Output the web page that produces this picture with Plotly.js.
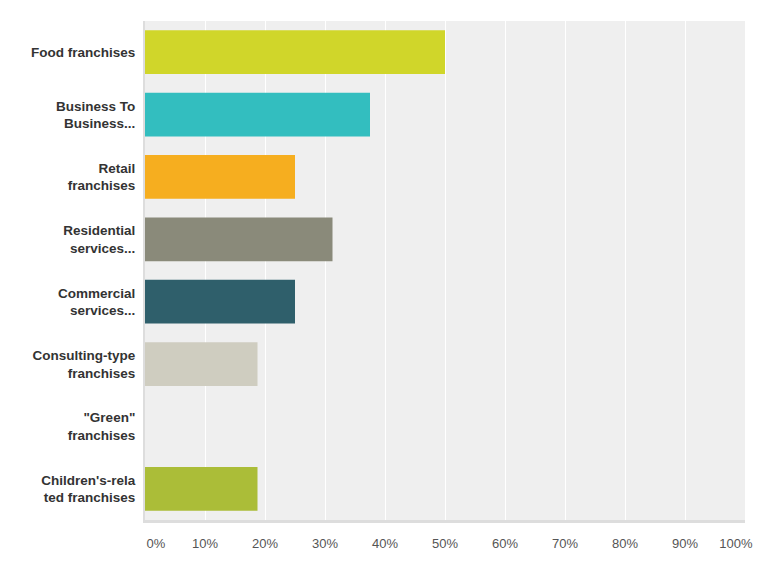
<!DOCTYPE html>
<html>
<head>
<meta charset="utf-8">
<script src="https://cdn.plot.ly/plotly-3.0.1.min.js"></script>
<style>
  html, body { margin: 0; padding: 0; background: #fff; }
  #chart { width: 775px; height: 565px; }
</style>
</head>
<body>
<div id="chart"></div>
<script>
// Answer choices (label text as shown, with the wraps of the original)
const categories = [
  'Food franchises',
  'Business To<br>Business...',
  'Retail<br>franchises',
  'Residential<br>services...',
  'Commercial<br>services...',
  'Consulting-type<br>franchises',
  '"Green"<br>franchises',
  "Children's-rela<br>ted franchises",
];

// Share of respondents, percent
const shares = [50, 37.5, 25, 31.25, 25, 18.75, 0, 18.75];

const barColors = [
  '#d0d62a', '#33bebf', '#f6ae1f', '#8a8a7a',
  '#2f5f6b', '#cfcdc0', '#7f9f3f', '#abbd38',
];

const xTicks = [0, 10, 20, 30, 40, 50, 60, 70, 80, 90, 100];

// end labels are nudged inward like the original (0% right, 100% left)
const NB = '\u00a0';
const xTickText = xTicks.map((v) => {
  if (v === 0) return NB.repeat(6) + v + '%';
  if (v === 100) return v + '%' + NB.repeat(5);
  return v + '%';
});

const trace = {
  type: 'bar',
  orientation: 'h',
  y: categories,
  x: shares,
  width: 0.7,
  marker: { color: barColors, line: { width: 0 } },
  hoverinfo: 'x+y',
};

const layout = {
  width: 775,
  height: 565,
  margin: { l: 145, r: 30, t: 21, b: 45 },
  paper_bgcolor: '#ffffff',
  plot_bgcolor: '#efefef',
  showlegend: false,
  bargap: 0.3,
  font: { family: 'Arial, "Liberation Sans", sans-serif' },
  xaxis: {
    range: [0, 100],
    tickvals: xTicks,
    ticktext: xTickText,
    showgrid: true,
    gridcolor: '#ffffff',
    gridwidth: 1,
    zeroline: false,
    showline: true,
    linecolor: '#dddddd',
    linewidth: 3,
    ticks: '',
    ticklabelstandoff: 9,
    tickfont: { size: 13, color: '#555555' },
    fixedrange: true,
  },
  yaxis: {
    autorange: 'reversed',
    showgrid: false,
    zeroline: false,
    showline: true,
    linecolor: '#dddddd',
    linewidth: 2,
    ticks: '',
    ticklabelstandoff: 5,
    tickfont: { size: 13.5, color: '#333333', weight: 'bold' },
    fixedrange: true,
  },
};

Plotly.newPlot('chart', [trace], layout, { displayModeBar: false, staticPlot: true });
</script>
</body>
</html>
